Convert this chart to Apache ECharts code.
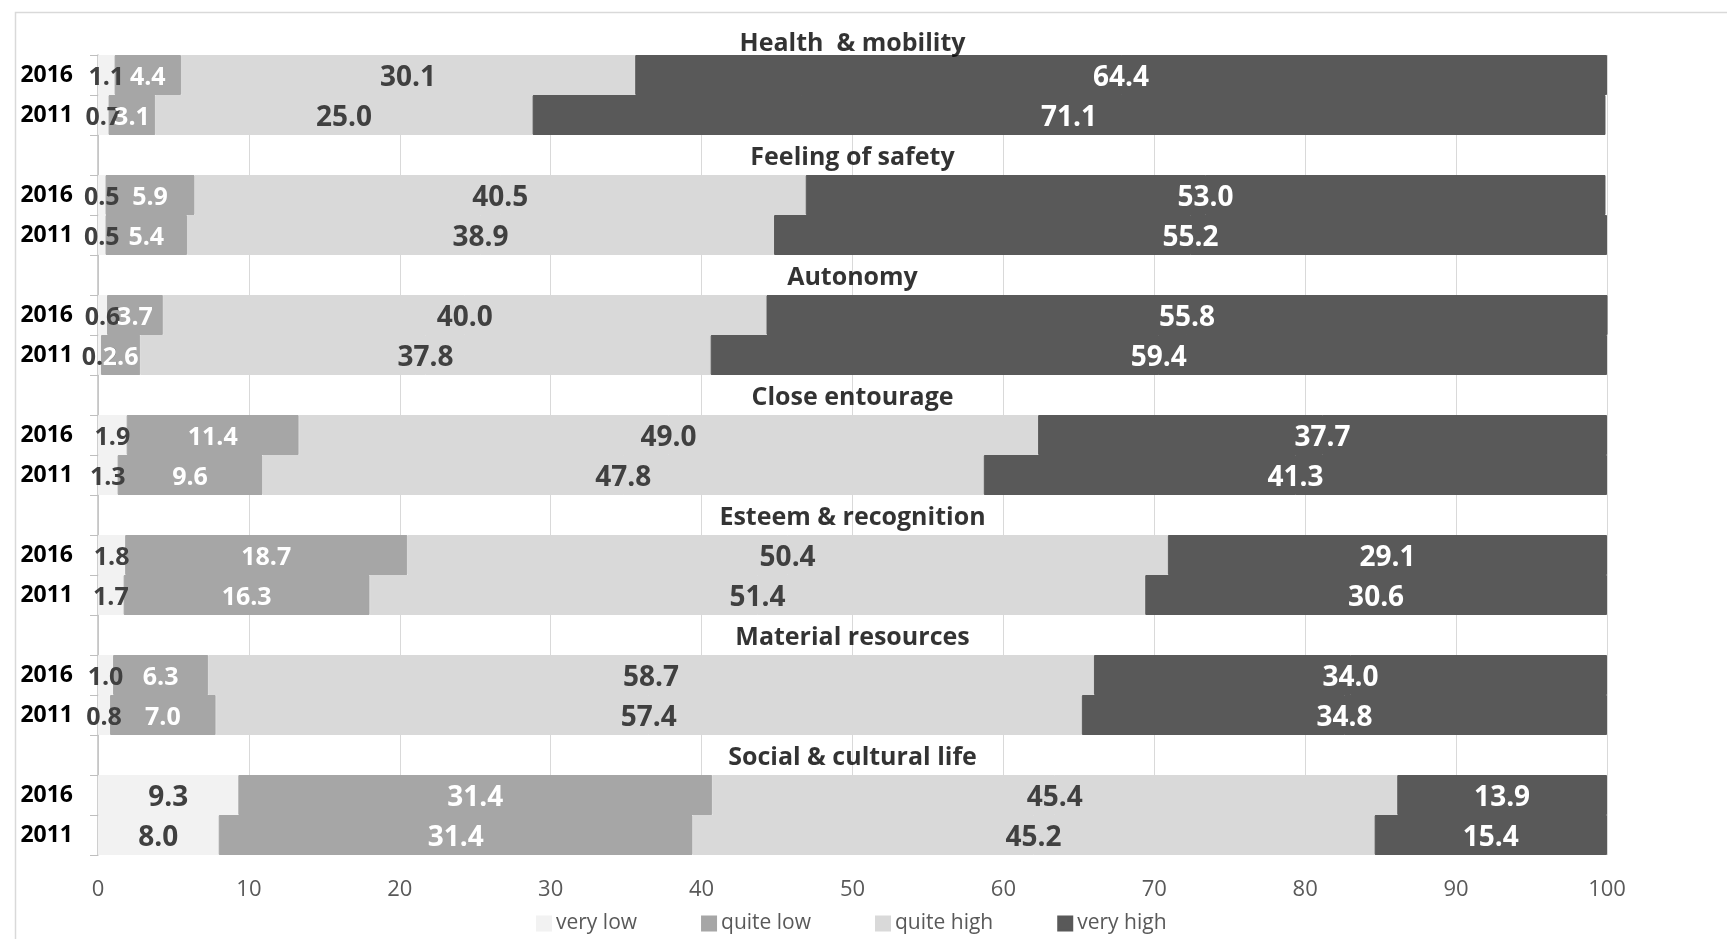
<!DOCTYPE html>
<html>
<head>
<meta charset="utf-8">
<script src="https://cdn.jsdelivr.net/npm/echarts@6/dist/echarts.min.js"></script>
<style>
html, body { margin: 0; padding: 0; background: #fff; }
#chart { width: 1727px; height: 939px; }
</style>
</head>
<body>
<div id="chart"></div>
<script>
// domains, top to bottom
const groups = ['Health  & mobility', 'Feeling of safety', 'Autonomy', 'Close entourage',
  'Esteem & recognition', 'Material resources', 'Social & cultural life'];
const years = ['2016', '2011'];
const levels = ['very low', 'quite low', 'quite high', 'very high'];

const veryLow2016 = [1.1, 0.5, 0.6, 1.9, 1.8, 1.0, 9.3];
const veryLow2011 = [0.7, 0.5, 0.2, 1.3, 1.7, 0.8, 8.0];
const quiteLow2016 = [4.4, 5.9, 3.7, 11.4, 18.7, 6.3, 31.4];
const quiteLow2011 = [3.1, 5.4, 2.6, 9.6, 16.3, 7.0, 31.4];
const quiteHigh2016 = [30.1, 40.5, 40.0, 49.0, 50.4, 58.7, 45.4];
const quiteHigh2011 = [25.0, 38.9, 37.8, 47.8, 51.4, 57.4, 45.2];
const veryHigh2016 = [64.4, 53.0, 55.8, 37.7, 29.1, 34.0, 13.9];
const veryHigh2011 = [71.1, 55.2, 59.4, 41.3, 30.6, 34.8, 15.4];

const xMin = 0, xMax = 100, xStep = 10;

const font = '"Open Sans", "Liberation Sans", sans-serif';
const colors = ['#f2f2f2', '#a6a6a6', '#d9d9d9', '#595959'];
const labelColors = ['#404040', '#ffffff', '#404040', '#ffffff'];
const labelSizes = [25, 25, 28, 28];

// one row per year, an empty row above each group (used for the group title)
const rowLabels = [];
const rowOf = [];
groups.forEach((g, gi) => {
  if (gi > 0) rowLabels.push('');
  rowOf.push([rowLabels.length, rowLabels.length + 1]);
  rowLabels.push(years[0], years[1]);
});

const levelValues = [
  [veryLow2016, veryLow2011],
  [quiteLow2016, quiteLow2011],
  [quiteHigh2016, quiteHigh2011],
  [veryHigh2016, veryHigh2011]
];

function toRows(pair, li) {
  const out = rowLabels.map(() => '-');
  groups.forEach((g, gi) => {
    years.forEach((y, yi) => {
      const item = { value: pair[yi][gi] };
      // last group uses the bigger labels everywhere
      if (gi === groups.length - 1 && labelSizes[li] < 28) item.label = { fontSize: 28 };
      out[rowOf[gi][yi]] = item;
    });
  });
  return out;
}

const barSeries = levels.map((name, li) => ({
  name,
  type: 'bar',
  stack: 'total',
  barCategoryGap: 0,
  itemStyle: { color: colors[li], borderColor: colors[li], borderWidth: 1 },
  label: {
    show: true,
    position: 'inside',
    offset: [0, 3],
    color: labelColors[li],
    fontFamily: font,
    fontWeight: 'bold',
    fontSize: labelSizes[li],
    formatter: p => p.value.toFixed(1)
  },
  data: toRows(levelValues[li], li)
}));

const titleSeries = {
  type: 'scatter',
  symbolSize: 1,
  silent: true,
  itemStyle: { color: 'rgba(0,0,0,0)' },
  label: {
    show: true,
    position: 'inside',
    offset: [0, 3],
    color: '#000',
    fontFamily: font,
    fontWeight: 'bold',
    fontSize: 25,
    formatter: p => p.name
  },
  data: groups.map((g, gi) => {
    const item = { name: g, value: [50, gi === 0 ? 0 : rowOf[gi][0] - 1] };
    if (gi === 0) item.label = { offset: [0, -31] };
    return item;
  })
};

const chart = echarts.init(document.getElementById('chart'), null, { renderer: 'canvas' });
chart.setOption({
  animation: false,
  backgroundColor: '#fff',
  graphic: [{
    type: 'rect',
    shape: { x: 15.5, y: 12.5, width: 1800, height: 1000 },
    style: { fill: 'none', stroke: '#d9d9d9', lineWidth: 1.5 },
    silent: true,
    z: -10
  }],
  grid: { left: 98, right: 120, top: 55, bottom: 84 },
  legend: {
    data: levels,
    left: 531,
    top: 908,
    icon: 'rect',
    itemWidth: 14,
    itemHeight: 14,
    itemGap: 64,
    textStyle: { color: '#595959', fontSize: 21, fontFamily: font }
  },
  xAxis: {
    type: 'value',
    min: xMin,
    max: xMax,
    interval: xStep,
    axisLine: { show: false },
    axisTick: { show: false },
    splitLine: { lineStyle: { color: '#d9d9d9', width: 1 } },
    axisLabel: { color: '#595959', fontSize: 22, fontFamily: font, margin: 24 }
  },
  yAxis: {
    type: 'category',
    inverse: true,
    data: rowLabels,
    splitLine: { show: false },
    axisLine: { lineStyle: { color: '#bfbfbf', width: 1.5 } },
    axisTick: { show: true, interval: 0, length: 8, lineStyle: { color: '#bfbfbf' } },
    axisLabel: {
      interval: 0,
      color: '#000',
      fontWeight: 'bold',
      fontSize: 23,
      fontFamily: font,
      margin: 25,
      padding: [6, 0, 0, 0]
    }
  },
  series: [titleSeries, ...barSeries]
});
</script>
</body>
</html>
